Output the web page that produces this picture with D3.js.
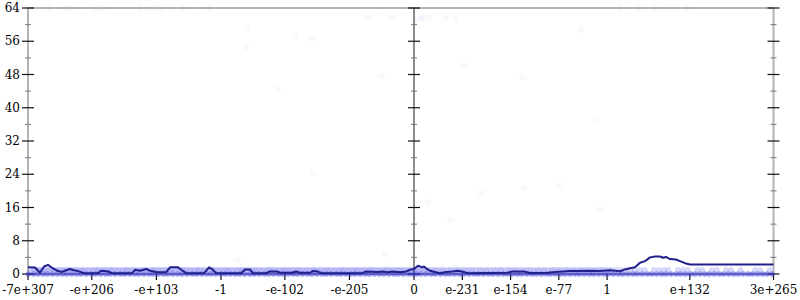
<!DOCTYPE html>
<html>
<head>
<meta charset="utf-8">
<script src="https://cdn.jsdelivr.net/npm/d3@7"></script>
<style>
  body { margin: 0; background: #fff; }
</style>
</head>
<body>
<script>
// x positions are in "signed decades": sign(v) * (log10|v| + 308)
const xTickValues = [-615.85, -514, -411, -308, -206, -103, 0, 77, 154, 231, 308, 440, 573.5];
const xTickLabels = ['-7e+307', '-e+206', '-e+103', '-1', '-e-102', '-e-205', '0', 'e-231', 'e-154', 'e-77', '1', 'e+132', '3e+265'];
const yTickValues = [0, 8, 16, 24, 32, 40, 48, 56, 64];

// smoothed trend line
const lineX = [-615.85, -604.7, -596.7, -590.3, -583.9, -577.5, -567.9, -561.6, -555.2, -548.8, -542.4, -536.0, -526.5,
  -504.1, -499.4, -493.0, -488.2, -481.8, -449.9, -445.1, -437.1, -427.5, -421.2, -410.0, -395.6, -389.3, -376.5,
  -370.1, -363.7, -335.0, -327.0, -322.2, -315.9, -276.0, -269.6, -261.7, -256.9, -236.2, -229.8, -218.6, -213.8,
  -194.7, -188.3, -181.9, -165.9, -161.1, -153.2, -148.4, -83.0, -76.6, -57.5, -51.1, -41.5, -35.1, -22.4, -12.8,
  -6.4, 0, 6.4, 12.7, 15.9, 20.7, 25.5, 35.1, 41.4, 51.0, 60.6, 70.2, 76.5, 86.1, 149.9, 156.3, 175.4, 185.0, 213.7,
  224.9, 248.8, 280.7, 296.7, 312.7, 328.6, 336.6, 344.6, 352.6, 360.5, 368.5, 376.5, 384.5, 392.4, 397.2, 402.0,
  408.4, 417.9, 424.3, 432.3, 440.3, 573.5];
const lineY = [1.6, 1.55, 0.3, 1.8, 2.2, 1.5, 0.7, 0.5, 0.9, 1.2, 0.9, 0.7, 0.2,
  0.2, 0.8, 0.7, 0.6, 0.2, 0.2, 1.0, 0.8, 1.2, 0.8, 0.4, 0.4, 1.6, 1.6,
  0.9, 0.2, 0.2, 1.6, 1.2, 0.2, 0.2, 1.1, 1.1, 0.2, 0.2, 0.6, 0.6, 0.3,
  0.3, 0.6, 0.3, 0.3, 0.75, 0.6, 0.2, 0.2, 0.6, 0.5, 0.6, 0.4, 0.6, 0.4, 0.6,
  1.0, 1.2, 2.0, 1.6, 1.8, 1.2, 0.8, 0.4, 0.2, 0.5, 0.6, 0.8, 0.6, 0.2, 0.3, 0.6, 0.6, 0.25, 0.3,
  0.5, 0.7, 0.8, 0.7, 0.9, 0.65, 1.1, 1.4, 1.6, 2.7, 3.1, 4.0, 4.2, 4.2, 3.9, 4.1,
  3.6, 3.5, 3.1, 2.6, 2.3, 2.3];

// scattered single samples
const sampleX = [-588.7, -580.7, -556.8, -548.8, -507.4, -497.8, -437.1, -425.9, -415.6, -405.2, -384.5, -370.1, -327.0,
  328.6, 357.3, 368.5, 384.5, 403.6, 419.5, 435.5,
  -73.4, -35.1, 1.6, 11.1, 12.7, 23.9, 51.0, 67.0, -266.5, -189.9, -162.7, -268.1, -51.1, -217.0,
  266.4, 79.7, 172.3, 291.9, 106.9, 175.5, 231.3, -161.1, -280.8, -46.3, 22.3, 57.4, 296.7];
const sampleY = [64, 64, 64, 64, 64, 64, 64, 64, 64, 64, 64, 64, 64,
  64, 64, 64, 64, 64, 64, 64,
  61.7, 61.8, 61.0, 61.8, 61.4, 61.8, 61.4, 61.4, 59.0, 57.3, 56.5, 54.7, 47.6, 44.5,
  58.7, 50.3, 47.4, 37.0, 19.5, 20.7, 21.4, 24.3, 3.4, 4.8, 17.3, 13.0, 15.4];

// dense rows of samples at 0 and 1 (each mark stands for several samples)
const zeroRowX = [-615, -607, -600, -592, -585, -577, -569, -561, -554, -546, -538, -531, -523, -515, -508, -500, -492,
  -485, -477, -469, -462, -454, -446, -439, -431, -423, -416, -408, -400, -393, -385, -377, -370, -362, -354, -347,
  -339, -331, -324, -316, -308, -301, -293, -285, -278, -270, -262, -255, -247, -239, -232, -224, -216, -209, -201,
  -193, -186, -178, -170, -163, -155, -147, -140, -132, -124, -117, -109, -101, -94, -86, -78, -71, -63, -55, -48,
  -40, -32, -25, -17, -9, -2, 4, 11, 19, 27, 34, 42, 50, 57, 65, 73, 80, 88, 96, 103, 111, 119, 126, 134, 142, 149,
  157, 165, 172, 180, 188, 195, 203, 211, 218, 226, 234, 241, 249, 257, 264, 272, 280, 287, 295, 303, 310, 318, 326,
  333, 341, 349, 356, 364, 372, 379, 387, 395, 402, 410, 418, 425, 433, 441, 448, 456, 464, 471, 479, 487, 494, 502,
  510, 517, 525, 533, 540, 548, 556, 563, 571];
const oneRowX = [-612, -607, -603, -599, -596, -592, -588, -584, -580, -576, -573, -569, -565, -561, -557, -553, -550,
  -546, -542, -538, -534, -530, -527, -523, -519, -515, -511, -507, -504, -500, -496, -492, -488, -484, -481, -477,
  -473, -469, -465, -461, -458, -454, -450, -446, -442, -438, -435, -431, -427, -423, -419, -415, -412, -408, -404,
  -400, -396, -392, -389, -385, -381, -377, -373, -369, -366, -362, -358, -354, -350, -346, -343, -339, -335, -331,
  -327, -323, -320, -316, -312, -308, -304, -300, -297, -293, -289, -285, -281, -277, -274, -270, -266, -262, -258,
  -254, -251, -247, -243, -239, -235, -231, -228, -224, -220, -216, -212, -208, -205, -201, -197, -193, -189, -185,
  -182, -178, -174, -170, -166, -162, -159, -155, -151, -147, -143, -139, -136, -132, -128, -124, -120, -116, -113,
  -109, -105, -101, -97, -93, -90, -86, -82, -78, -74, -70, -67, -63, -59, -55, -51, -47, -44, -40, -36, -32, -28,
  -24, -21, -17, -13, -9, -5, -1, 2, 6, 10, 14, 18, 22, 26, 31, 35, 39, 44, 48, 53, 58, 62, 67, 71, 76, 81, 85, 90,
  94, 99, 104, 108, 113, 117, 122, 127, 131, 136, 140, 145, 150, 154, 159, 163, 168, 173, 177, 182, 186, 191, 196,
  200, 205, 209, 214, 219, 223, 228, 232, 237, 242, 246, 251, 255, 260, 265, 269, 274, 278, 283, 288, 292, 297, 301,
  306, 311, 315, 322, 330, 337, 345, 352, 360, 368, 383, 391, 399, 406, 421, 429, 437, 452, 460, 475, 483, 498, 506,
  521, 544, 552, 567];
const zeroRowSamples = 10;
const oneRowSamples = 3;

const width = 800;
const height = 300;
const margin = { top: 8, right: 26.5, bottom: 26, left: 28 };

const x = d3.scaleLinear()
  .domain([xTickValues[0], xTickValues[xTickValues.length - 1]])
  .range([margin.left, width - margin.right]);
const y = d3.scaleLinear()
  .domain([0, 64])
  .range([height - margin.bottom, margin.top]);

const svg = d3.select('body').append('svg')
  .attr('width', width)
  .attr('height', height)
  .attr('font-family', '"DejaVu Serif", serif')
  .attr('font-size', 12);

const minorY = d3.range(4, 64, 8);

// frame and vertical axes
svg.append('line')
  .attr('x1', x.range()[0]).attr('x2', x.range()[1])
  .attr('y1', y(64)).attr('y2', y(64))
  .attr('stroke', '#b4b4b4').attr('stroke-width', 2);
svg.append('line')
  .attr('x1', x.range()[0]).attr('x2', x.range()[1])
  .attr('y1', y(0)).attr('y2', y(0))
  .attr('stroke', '#8a8a8a').attr('stroke-width', 2);

function drawVAxis(xPos, color, w) {
  const g = svg.append('g');
  g.append('line')
    .attr('x1', xPos).attr('x2', xPos)
    .attr('y1', y(0)).attr('y2', y(64))
    .attr('stroke', color).attr('stroke-width', w);
  g.selectAll('.major').data(yTickValues).enter().append('line')
    .attr('class', 'major')
    .attr('x1', xPos - 6).attr('x2', xPos + 6)
    .attr('y1', d => y(d)).attr('y2', d => y(d))
    .attr('stroke', '#111').attr('stroke-width', 1.2);
  g.selectAll('.minor').data(minorY).enter().append('line')
    .attr('class', 'minor')
    .attr('x1', xPos - 3).attr('x2', xPos + 3)
    .attr('y1', d => y(d)).attr('y2', d => y(d))
    .attr('stroke', '#777').attr('stroke-width', 1);
}

drawVAxis(x(xTickValues[0]), '#b4b4b4', 2);
drawVAxis(x(0), '#666', 1.5);
drawVAxis(x(xTickValues[xTickValues.length - 1]), '#b4b4b4', 2);

// y labels
svg.selectAll('.ylabel').data(yTickValues).enter().append('text')
  .attr('x', x.range()[0] - 8)
  .attr('y', d => y(d))
  .attr('dy', '0.35em')
  .attr('text-anchor', 'end')
  .text(d => d);

// x ticks and labels
svg.selectAll('.xtick').data(xTickValues).enter().append('line')
  .attr('x1', d => x(d)).attr('x2', d => x(d))
  .attr('y1', y(0)).attr('y2', y(0) + 6)
  .attr('stroke', '#111').attr('stroke-width', 1.2);
svg.selectAll('.xlabel').data(xTickValues).enter().append('text')
  .attr('x', d => x(d))
  .attr('y', y(0) + 20)
  .attr('text-anchor', 'middle')
  .text((d, i) => xTickLabels[i]);

// samples
const dotColor = 'rgb(60,60,235)';
const alphaFor = n => 1 - Math.pow(1 - 0.07, n);

svg.append('g').selectAll('circle').data(oneRowX).enter().append('circle')
  .attr('cx', d => x(d)).attr('cy', y(1)).attr('r', 2.8)
  .attr('fill', dotColor).attr('fill-opacity', alphaFor(oneRowSamples));
svg.append('g').selectAll('circle').data(zeroRowX).enter().append('circle')
  .attr('cx', d => x(d)).attr('cy', y(0)).attr('r', 2.8)
  .attr('fill', dotColor).attr('fill-opacity', alphaFor(zeroRowSamples));
svg.append('g').selectAll('circle').data(sampleX).enter().append('circle')
  .attr('cx', d => x(d)).attr('cy', (d, i) => y(sampleY[i])).attr('r', 2.6)
  .attr('fill', dotColor).attr('fill-opacity', 0.03)
  .attr('stroke', dotColor).attr('stroke-opacity', 0.04).attr('stroke-width', 0.8);

// trend line
const line = d3.line()
  .x(d => x(d[0]))
  .y(d => y(d[1]));
svg.append('path')
  .datum(lineX.map((v, i) => [v, lineY[i]]))
  .attr('d', line)
  .attr('fill', 'none')
  .attr('stroke', '#20208c')
  .attr('stroke-width', 2)
  .attr('stroke-linejoin', 'round');
</script>
</body>
</html>
